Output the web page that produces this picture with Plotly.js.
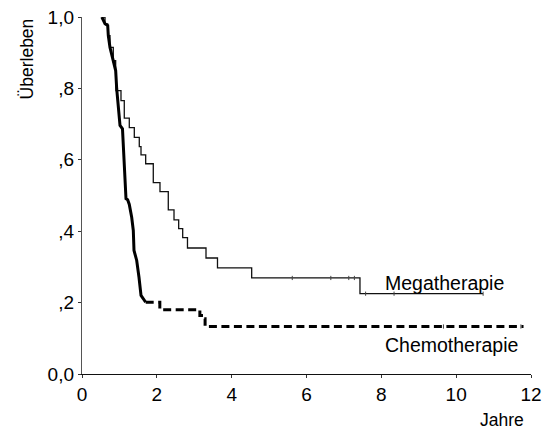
<!DOCTYPE html>
<html>
<head>
<meta charset="utf-8">
<script src="https://cdn.plot.ly/plotly-3.0.1.min.js"></script>
<style>html,body{margin:0;padding:0;background:#fff;}#chart{width:544px;height:444px;}</style>
</head>
<body>
<div id="chart"></div>
<script>
// Chemotherapie: steep early part (solid) and tail (dashed)
var chemoSteepX = [0.53, 0.615, 0.687, 0.703, 0.748, 0.836, 0.90, 0.927, 0.970, 1.016, 1.082, 1.104, 1.149, 1.176, 1.22, 1.264, 1.328, 1.371, 1.39, 1.462, 1.523, 1.577, 1.702];
var chemoSteepY = [1.0, 0.981, 0.976, 0.948, 0.915, 0.878, 0.850, 0.799, 0.738, 0.696, 0.687, 0.635, 0.561, 0.491, 0.488, 0.475, 0.439, 0.402, 0.346, 0.318, 0.271, 0.220, 0.201];
var chemoTailX = [1.702, 2.08, 3.15, 3.24, 3.29, 11.8];
var chemoTailY = [0.201, 0.180, 0.164, 0.155, 0.133, 0.133];

// Megatherapie (step function)
var megaX = [0.53, 0.615, 0.687, 0.748, 0.836, 0.90, 0.909, 1.042, 1.130, 1.264, 1.398, 1.531, 1.577, 1.702, 1.905, 2.084, 2.306, 2.459, 2.584, 2.691, 2.819, 3.314, 3.621, 4.535, 7.429, 10.716];
var megaY = [1.0, 0.981, 0.948, 0.915, 0.878, 0.850, 0.794, 0.766, 0.717, 0.690, 0.663, 0.637, 0.614, 0.589, 0.536, 0.511, 0.460, 0.432, 0.407, 0.382, 0.353, 0.325, 0.297, 0.269, 0.225, 0.225];

// censoring marks
var censMegaX = [5.62, 6.65, 7.13, 7.28, 7.58, 8.34, 10.72];
var censMegaY = [0.269, 0.269, 0.269, 0.269, 0.225, 0.225, 0.225];
var censChemoX = [9.66, 11.73];
var censChemoY = [0.133, 0.133];

var yTickVals = [0, 0.2, 0.4, 0.6, 0.8, 1.0];
var yTickText = ["0,0", ",2", ",4", ",6", ",8", "1,0"];
var xTickVals = [0, 2, 4, 6, 8, 10, 12];

var labelMega = "Megatherapie";
var labelChemo = "Chemotherapie";

var traces = [
  {x: megaX, y: megaY, mode: 'lines', line: {shape: 'hv', color: '#111', width: 1.3}, name: labelMega},
  {x: chemoSteepX, y: chemoSteepY, mode: 'lines', line: {shape: 'linear', color: '#000', width: 3}, name: labelChemo},
  {x: chemoTailX, y: chemoTailY, mode: 'lines', line: {shape: 'hv', color: '#000', width: 3, dash: '8px,4.5px'}, name: labelChemo},
  {x: censMegaX, y: censMegaY, mode: 'markers', marker: {symbol: 'line-ns', size: 3, line: {width: 1, color: '#444'}}},
  {x: censChemoX, y: censChemoY, mode: 'markers', marker: {symbol: 'line-ns', size: 3, line: {width: 1, color: '#444'}}}
];

var font = 'Liberation Sans, Arial, sans-serif';
var layout = {
  width: 544, height: 444,
  margin: {l: 82, r: 13, t: 17, b: 70},
  paper_bgcolor: '#fff', plot_bgcolor: '#fff',
  showlegend: false,
  font: {family: font, color: '#000'},
  xaxis: {
    range: [0, 12], tickvals: xTickVals, ticks: 'outside', ticklen: 3, tickwidth: 1, tickcolor: '#333',
    showline: true, linecolor: '#111', linewidth: 1.2, showgrid: false, zeroline: false,
    tickfont: {size: 19, family: font, color: '#000'}
  },
  yaxis: {
    range: [0, 1], tickvals: yTickVals, ticktext: yTickText, ticks: 'outside', ticklen: 3, tickwidth: 1, tickcolor: '#333',
    showline: true, linecolor: '#555', linewidth: 1.2, showgrid: false, zeroline: false,
    tickfont: {size: 19, family: font, color: '#000'}
  },
  annotations: [
    {x: 8.04, y: 0.256, xref: 'x', yref: 'y', text: labelMega, showarrow: false, xanchor: 'left', yanchor: 'middle', font: {size: 19.5, family: font, color: '#000'}},
    {x: 8.04, y: 0.081, xref: 'x', yref: 'y', text: labelChemo, showarrow: false, xanchor: 'left', yanchor: 'middle', font: {size: 19.5, family: font, color: '#000'}},
    {x: 0.988, y: -0.130, xref: 'paper', yref: 'paper', text: 'Jahre', showarrow: false, xanchor: 'right', yanchor: 'middle', font: {size: 17.5, family: font, color: '#000'}},
    {x: -0.1225, y: 0.884, xref: 'paper', yref: 'paper', text: 'Überleben', textangle: -90, showarrow: false, xanchor: 'center', yanchor: 'middle', font: {size: 17.5, family: font, color: '#000'}}
  ]
};

Plotly.newPlot('chart', traces, layout, {displayModeBar: false, staticPlot: true});
</script>
</body>
</html>
